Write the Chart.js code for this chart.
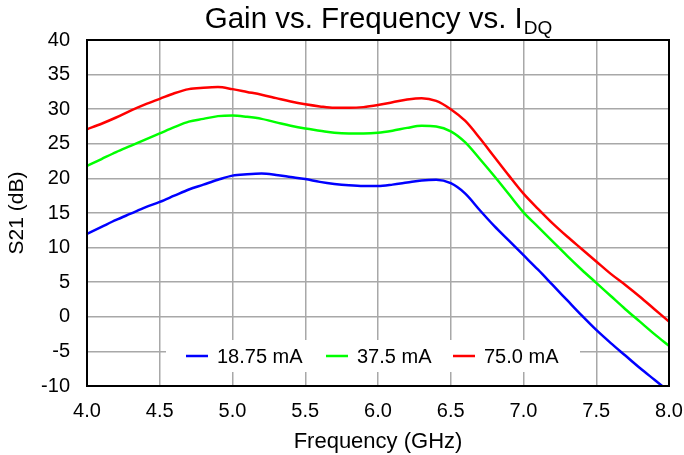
<!DOCTYPE html>
<html>
<head>
<meta charset="utf-8">
<script src="https://cdn.jsdelivr.net/npm/chart.js@4/dist/chart.umd.min.js"></script>
<style>
  html, body { margin: 0; padding: 0; background: #fff; }
  #wrap { width: 684px; height: 455px; position: relative; }
</style>
</head>
<body>
<div id="wrap"><canvas id="chart"></canvas></div>
<script>
// Frequency points (GHz)
const freqs = [
  4.0, 4.1, 4.2, 4.3, 4.4, 4.5, 4.6, 4.7, 4.8, 4.9,
  5.0, 5.1, 5.2, 5.3, 5.4, 5.5, 5.6, 5.7, 5.8, 5.9,
  6.0, 6.1, 6.2, 6.3, 6.4, 6.5, 6.6, 6.7, 6.8, 6.9,
  7.0, 7.1, 7.2, 7.3, 7.4, 7.5, 7.6, 7.7, 7.8, 7.9, 8.0,
];

// S21 (dB) per bias current
const gain18 = [
  12.0, 13.0, 14.0, 14.9, 15.8, 16.6, 17.5, 18.4, 19.1, 19.8,
  20.4, 20.6, 20.7, 20.5, 20.2, 19.9, 19.5, 19.2, 19.0, 18.9,
  18.9, 19.1, 19.4, 19.7, 19.8, 19.3, 17.8, 15.4, 13.1, 11.0,
  8.9, 6.8, 4.6, 2.4, 0.2, -1.9, -3.8, -5.6, -7.4, -9.1, -10.8,
];
const gain37 = [
  21.8, 22.8, 23.8, 24.7, 25.6, 26.5, 27.4, 28.2, 28.6, 29.0,
  29.1, 28.9, 28.6, 28.1, 27.6, 27.2, 26.9, 26.6, 26.5, 26.5,
  26.6, 26.9, 27.3, 27.6, 27.5, 26.8, 25.2, 22.8, 20.3, 17.7,
  15.1, 13.0, 10.9, 8.8, 6.8, 4.9, 3.0, 1.1, -0.7, -2.5, -4.2,
];
const gain75 = [
  27.1, 27.9, 28.8, 29.8, 30.7, 31.5, 32.3, 32.9, 33.1, 33.2,
  32.9, 32.5, 32.1, 31.6, 31.1, 30.7, 30.4, 30.2, 30.2, 30.3,
  30.6, 31.0, 31.4, 31.6, 31.2, 30.0, 28.3, 25.8, 23.1, 20.4,
  17.8, 15.6, 13.5, 11.6, 9.8, 8.0, 6.2, 4.6, 2.9, 1.1, -0.7,
];

const seriesLabels = ["18.75 mA", "37.5 mA", "75.0 mA"];
const seriesColors = ["#0000ff", "#00ff00", "#ff0000"];

const FONT = "Arial, 'Liberation Sans', sans-serif";

const toPoints = (ys) => freqs.map((f, i) => ({ x: f, y: ys[i] }));

// Title with subscript, centred over the plot area
const titlePlugin = {
  id: "subTitle",
  afterDraw(chart) {
    const { ctx, chartArea } = chart;
    const main = "Gain vs. Frequency vs. I";
    const sub = "DQ";
    ctx.save();
    ctx.fillStyle = "#000";
    ctx.textBaseline = "alphabetic";
    ctx.font = `29.5px ${FONT}`;
    const w1 = ctx.measureText(main).width;
    ctx.font = `19px ${FONT}`;
    const w2 = ctx.measureText(sub).width;
    const cx = (chartArea.left + chartArea.right) / 2;
    const x0 = cx - (w1 + w2) / 2;
    ctx.font = `29.5px ${FONT}`;
    ctx.fillText(main, x0, 28);
    ctx.font = `19px ${FONT}`;
    ctx.fillText(sub, x0 + w1 + 1, 34);
    ctx.restore();
  },
};

// Legend drawn inside the plot near the bottom, on a white box
const insideLegend = {
  id: "insideLegend",
  beforeDatasetsDraw(chart) {
    const { ctx } = chart;
    ctx.save();
    ctx.fillStyle = "#fff";
    ctx.fillRect(166, 340, 414, 32);
    ctx.restore();
  },
  afterDatasetsDraw(chart) {
    const { ctx } = chart;
    const y = 356;
    const starts = [186, 326, 453];
    ctx.save();
    ctx.font = `20px ${FONT}`;
    ctx.textBaseline = "middle";
    starts.forEach((x, i) => {
      ctx.strokeStyle = seriesColors[i];
      ctx.lineWidth = 2.5;
      ctx.beginPath();
      ctx.moveTo(x, y);
      ctx.lineTo(x + 22, y);
      ctx.stroke();
      ctx.fillStyle = "#000";
      ctx.fillText(seriesLabels[i], x + 31, y + 1);
    });
    ctx.restore();
  },
};

// Black frame around the plot area
const framePlugin = {
  id: "frame",
  afterDraw(chart) {
    const { ctx, chartArea: a } = chart;
    ctx.save();
    ctx.strokeStyle = "#000";
    ctx.lineWidth = 2;
    ctx.strokeRect(a.left, a.top, a.right - a.left, a.bottom - a.top);
    ctx.restore();
  },
};

new Chart(document.getElementById("chart"), {
  type: "line",
  data: {
    datasets: [gain18, gain37, gain75].map((ys, i) => ({
      label: seriesLabels[i],
      data: toPoints(ys),
      borderColor: seriesColors[i],
      borderWidth: 2.5,
      pointRadius: 0,
      fill: false,
      cubicInterpolationMode: "monotone",
    })),
  },
  options: {
    responsive: true,
    maintainAspectRatio: false,
    animation: false,
    events: [],
    layout: { padding: { top: 40, right: 15, left: 0, bottom: 0 } },
    plugins: {
      legend: { display: false },
      title: { display: false },
      tooltip: { enabled: false },
    },
    scales: {
      x: {
        type: "linear",
        min: 4,
        max: 8,
        afterFit: (s) => {
          s.height = 69;
          s.paddingLeft = 0;
          s.paddingRight = 0;
        },
        ticks: {
          stepSize: 0.5,
          padding: 13,
          color: "#000",
          font: { family: FONT, size: 20 },
          callback: (v) => v.toFixed(1),
        },
        grid: { color: "#a8a8a8", lineWidth: 1.5, drawTicks: false },
        border: { display: false },
        title: {
          display: true,
          text: "Frequency (GHz)",
          color: "#000",
          font: { family: FONT, size: 22 },
          padding: { top: 3, bottom: 0 },
        },
      },
      y: {
        min: -10,
        max: 40,
        afterFit: (s) => {
          s.width = 87;
          s.paddingTop = 0;
          s.paddingBottom = 0;
        },
        ticks: {
          stepSize: 5,
          padding: 17,
          color: "#000",
          font: { family: FONT, size: 20 },
        },
        grid: { color: "#a8a8a8", lineWidth: 1.5, drawTicks: false },
        border: { display: false },
        title: {
          display: true,
          text: "S21 (dB)",
          color: "#000",
          font: { family: FONT, size: 21 },
          padding: { top: 5, bottom: 0 },
        },
      },
    },
  },
  plugins: [insideLegend, titlePlugin, framePlugin],
});
</script>
</body>
</html>
